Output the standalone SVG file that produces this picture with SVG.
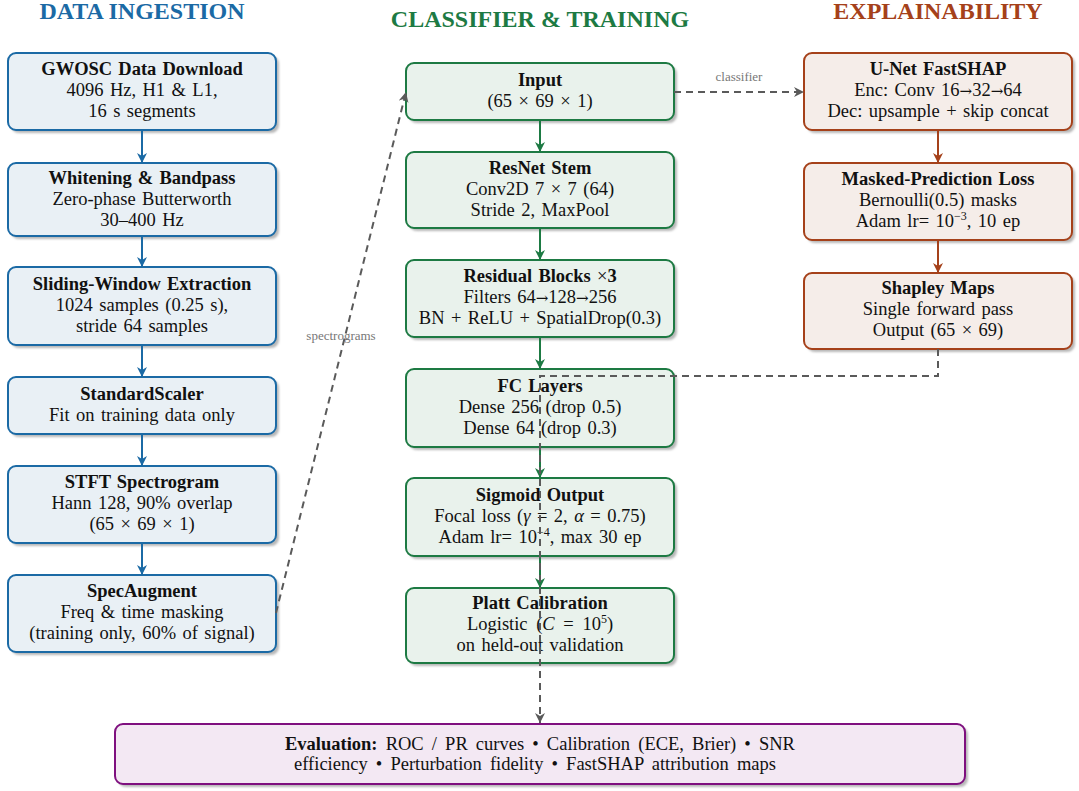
<svg xmlns="http://www.w3.org/2000/svg" width="1079" height="791" viewBox="0 0 1079 791">
<style>
text{font-family:"Liberation Serif","Times New Roman",serif;fill:#111;}
.hd{font-size:24px;font-weight:bold;text-anchor:middle;}
.t{font-size:18.5px;font-weight:bold;text-anchor:middle;word-spacing:1.5px;}
.b{font-size:18.5px;text-anchor:middle;word-spacing:1.8px;}
.ev{font-size:18.5px;text-anchor:middle;word-spacing:3.5px;}
.ar2{font-family:"DejaVu Serif",serif;font-size:15px;}
.lbl{font-size:13px;fill:#777;text-anchor:middle;}
.sh{fill:#b8b8b8;filter:url(#blur);}
.bl{fill:#e9f0f5;stroke:#1b6aa5;stroke-width:2;}
.gr{fill:#e9f2ec;stroke:#1d7a43;stroke-width:2;}
.ru{fill:#f5ede9;stroke:#a5411a;stroke-width:2;}
.pu{fill:#f3e8f3;stroke:#7f107f;stroke-width:2;}
.ab{stroke:#1b6aa5;stroke-width:2;fill:none;marker-end:url(#mb);}
.ag{stroke:#1d7a43;stroke-width:2;fill:none;marker-end:url(#mg);}
.ar{stroke:#a5411a;stroke-width:2;fill:none;marker-end:url(#mr);}
.dash{stroke:#5a5a5a;stroke-width:2;fill:none;stroke-dasharray:7 5;marker-end:url(#mk);}
</style>
<defs>
<filter id="blur" x="-5%" y="-5%" width="110%" height="120%"><feGaussianBlur stdDeviation="1"/></filter>
<marker id="mb" viewBox="0 0 10 10" refX="10" refY="5" markerWidth="10" markerHeight="10" markerUnits="userSpaceOnUse" orient="auto"><path d="M0,0 L10,5 L0,10 L3,5 z" fill="#1b6aa5"/></marker>
<marker id="mg" viewBox="0 0 10 10" refX="10" refY="5" markerWidth="10" markerHeight="10" markerUnits="userSpaceOnUse" orient="auto"><path d="M0,0 L10,5 L0,10 L3,5 z" fill="#1d7a43"/></marker>
<marker id="mr" viewBox="0 0 10 10" refX="10" refY="5" markerWidth="10" markerHeight="10" markerUnits="userSpaceOnUse" orient="auto"><path d="M0,0 L10,5 L0,10 L3,5 z" fill="#a5411a"/></marker>
<marker id="mk" viewBox="0 0 10 10" refX="10" refY="5" markerWidth="10" markerHeight="10" markerUnits="userSpaceOnUse" orient="auto"><path d="M0,0 L10,5 L0,10 L3,5 z" fill="#5a5a5a"/></marker>
</defs>

<g id="headers">
<text class="hd" x="142" y="19" style="fill:#1b6aa5">DATA INGESTION</text>
<text class="hd" x="540" y="27" style="fill:#1d7a43">CLASSIFIER &amp; TRAINING</text>
<text class="hd" x="938" y="19" style="fill:#a5411a">EXPLAINABILITY</text>
</g>

<g id="gwosc">
<rect class="sh" x="11" y="56" width="268" height="77" rx="8"/>
<rect class="bl" x="8" y="53" width="268" height="77" rx="8"/>
<text class="t" x="142" y="75">GWOSC Data Download</text>
<text class="b" x="142" y="96">4096 Hz, H1 &amp; L1,</text>
<text class="b" x="142" y="117">16 s segments</text>
</g>
<g id="whitening">
<rect class="sh" x="11" y="166" width="268" height="73" rx="8"/>
<rect class="bl" x="8" y="163" width="268" height="73" rx="8"/>
<text class="t" x="142" y="184">Whitening &amp; Bandpass</text>
<text class="b" x="142" y="205">Zero-phase Butterworth</text>
<text class="b" x="142" y="226">30–400 Hz</text>
</g>
<g id="sliding">
<rect class="sh" x="11" y="270" width="268" height="78" rx="8"/>
<rect class="bl" x="8" y="267" width="268" height="78" rx="8"/>
<text class="t" x="142" y="290">Sliding-Window Extraction</text>
<text class="b" x="142" y="311">1024 samples (0.25 s),</text>
<text class="b" x="142" y="332">stride 64 samples</text>
</g>
<g id="scaler">
<rect class="sh" x="11" y="380" width="268" height="57" rx="8"/>
<rect class="bl" x="8" y="377" width="268" height="57" rx="8"/>
<text class="t" x="142" y="400">StandardScaler</text>
<text class="b" x="142" y="421">Fit on training data only</text>
</g>
<g id="stft">
<rect class="sh" x="11" y="469" width="268" height="77" rx="8"/>
<rect class="bl" x="8" y="466" width="268" height="77" rx="8"/>
<text class="t" x="142" y="488">STFT Spectrogram</text>
<text class="b" x="142" y="509">Hann 128, 90% overlap</text>
<text class="b" x="142" y="530">(65 × 69 × 1)</text>
</g>
<g id="specaugment">
<rect class="sh" x="11" y="578" width="268" height="77" rx="8"/>
<rect class="bl" x="8" y="575" width="268" height="77" rx="8"/>
<text class="t" x="142" y="597">SpecAugment</text>
<text class="b" x="142" y="618">Freq &amp; time masking</text>
<text class="b" x="142" y="639">(training only, 60% of signal)</text>
</g>

<g id="input">
<rect class="sh" x="409" y="66" width="268" height="57" rx="8"/>
<rect class="gr" x="406" y="63" width="268" height="57" rx="8"/>
<text class="t" x="540" y="86">Input</text>
<text class="b" x="540" y="107">(65 × 69 × 1)</text>
</g>
<g id="resnet">
<rect class="sh" x="409" y="155" width="268" height="76" rx="8"/>
<rect class="gr" x="406" y="152" width="268" height="76" rx="8"/>
<text class="t" x="540" y="174">ResNet Stem</text>
<text class="b" x="540" y="195">Conv2D 7 × 7 (64)</text>
<text class="b" x="540" y="216">Stride 2, MaxPool</text>
</g>
<g id="residual">
<rect class="sh" x="409" y="263" width="268" height="77" rx="8"/>
<rect class="gr" x="406" y="260" width="268" height="77" rx="8"/>
<text class="t" x="540" y="282">Residual Blocks <tspan font-weight="normal">×</tspan>3</text>
<text class="b" x="540" y="303">Filters 64<tspan class="ar2">→</tspan>128<tspan class="ar2">→</tspan>256</text>
<text class="b" x="540" y="324">BN + ReLU + SpatialDrop(0.3)</text>
</g>
<g id="fc">
<rect class="sh" x="409" y="372" width="268" height="78" rx="8"/>
<rect class="gr" x="406" y="369" width="268" height="78" rx="8"/>
<text class="t" x="540" y="392">FC Layers</text>
<text class="b" x="540" y="413">Dense 256 (drop 0.5)</text>
<text class="b" x="540" y="434">Dense 64 (drop 0.3)</text>
</g>
<g id="sigmoid">
<rect class="sh" x="409" y="481" width="268" height="78" rx="8"/>
<rect class="gr" x="406" y="478" width="268" height="78" rx="8"/>
<text class="t" x="540" y="501">Sigmoid Output</text>
<text class="b" x="540" y="522">Focal loss (<tspan font-style="italic">γ</tspan> = 2, <tspan font-style="italic">α</tspan> = 0.75)</text>
<text class="b" x="540" y="543">Adam lr= 10<tspan dy="-7" font-size="12">−4</tspan><tspan dy="7">, max 30 ep</tspan></text>
</g>
<g id="platt">
<rect class="sh" x="409" y="591" width="268" height="75" rx="8"/>
<rect class="gr" x="406" y="588" width="268" height="75" rx="8"/>
<text class="t" x="540" y="609">Platt Calibration</text>
<text class="b" x="540" y="630" style="word-spacing:4px">Logistic (<tspan font-style="italic">C</tspan> = 10<tspan dy="-7" font-size="12">5</tspan><tspan dy="7">)</tspan></text>
<text class="b" x="540" y="651">on held-out validation</text>
</g>

<g id="unet">
<rect class="sh" x="807" y="56" width="268" height="77" rx="8"/>
<rect class="ru" x="804" y="53" width="268" height="77" rx="8"/>
<text class="t" x="938" y="75">U-Net FastSHAP</text>
<text class="b" x="938" y="96">Enc: Conv 16<tspan class="ar2">→</tspan>32<tspan class="ar2">→</tspan>64</text>
<text class="b" x="938" y="117">Dec: upsample + skip concat</text>
</g>
<g id="masked">
<rect class="sh" x="807" y="166" width="268" height="77" rx="8"/>
<rect class="ru" x="804" y="163" width="268" height="77" rx="8"/>
<text class="t" x="938" y="185">Masked-Prediction Loss</text>
<text class="b" x="938" y="206">Bernoulli(0.5) masks</text>
<text class="b" x="938" y="227">Adam lr= 10<tspan dy="-7" font-size="12">−3</tspan><tspan dy="7">, 10 ep</tspan></text>
</g>
<g id="shapley">
<rect class="sh" x="807" y="276" width="268" height="76" rx="8"/>
<rect class="ru" x="804" y="273" width="268" height="76" rx="8"/>
<text class="t" x="938" y="294">Shapley Maps</text>
<text class="b" x="938" y="315">Single forward pass</text>
<text class="b" x="938" y="336">Output (65 × 69)</text>
</g>

<g id="evaluation">
<rect class="sh" x="118" y="727" width="850" height="60" rx="8"/>
<rect class="pu" x="115" y="724" width="850" height="60" rx="8"/>
<text class="ev" x="540" y="750"><tspan font-weight="bold">Evaluation:</tspan> ROC / PR curves • Calibration (ECE, Brier) • SNR</text>
<text class="ev" x="535" y="770">efficiency • Perturbation fidelity • FastSHAP attribution maps</text>
</g>

<g id="connectors">
<path class="ab" d="M142,130 L142,163"/>
<path class="ab" d="M142,236 L142,267"/>
<path class="ab" d="M142,345 L142,377"/>
<path class="ab" d="M142,434 L142,466"/>
<path class="ab" d="M142,543 L142,575"/>
<path class="ag" d="M540,120 L540,152"/>
<path class="ag" d="M540,228 L540,260"/>
<path class="ag" d="M540,337 L540,369"/>
<path class="ag" d="M540,447 L540,478"/>
<path class="ag" d="M540,556 L540,588"/>
<path class="ar" d="M938,130 L938,163"/>
<path class="ar" d="M938,240 L938,273"/>
<path class="dash" d="M276,613 L406,92"/>
<text class="lbl" x="341" y="340">spectrograms</text>
<path class="dash" d="M674,92 L804,92"/>
<text class="lbl" x="739" y="81">classifier</text>
<path class="dash" d="M938,349 L938,376 L540,376 L540,723"/>
</g>
</svg>
